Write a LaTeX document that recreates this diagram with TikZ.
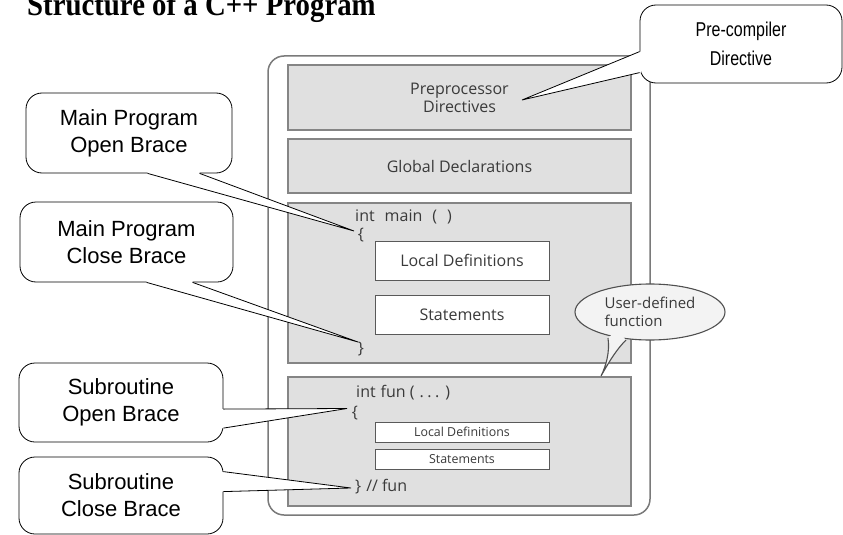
\documentclass[tikz,border=0pt]{standalone}
\usepackage{fontspec}
\setmainfont{Liberation Sans}
\newfontfamily\titlefont{Liberation Serif}
\newfontfamily\codefont{Open Sans}
\usetikzlibrary{shapes.geometric,calc}
\definecolor{panelfill}{HTML}{E0E0E0}
\definecolor{panelline}{HTML}{858585}
\definecolor{ink}{HTML}{3A3A3A}
\definecolor{frameline}{HTML}{7A7A7A}
\definecolor{bubblefill}{HTML}{F3F3F3}
\definecolor{bubbleline}{HTML}{505050}

\begin{document}
\begin{tikzpicture}[x=1pt,y=-1pt,
  panel/.style={draw=panelline, fill=panelfill, line width=1.2pt, minimum width=343pt,
    inner sep=0pt, align=center, text=ink, font=\codefont\fontsize{16}{18}\selectfont},
  whitebox/.style={draw=black!65, fill=white, line width=1pt, minimum width=174pt,
    inner sep=0pt, text=ink, font=\codefont\fontsize{16}{18}\selectfont},
  smallbox/.style={whitebox, minimum height=20pt, font=\codefont\fontsize{12.4}{14}\selectfont},
  code/.style={font=\codefont\fontsize{16}{18}\selectfont, text=ink, inner sep=0pt},
  callbox/.style={draw=black, fill=white, line width=0.8pt, rounded corners=16pt,
    align=center, font=\fontsize{22}{27}\selectfont, inner sep=0pt},
  tail/.style={draw=black, line width=0.8pt, line join=miter}
]
\useasboundingbox (0,0) rectangle (843,535);

% title
\node[anchor=base west, inner sep=0pt, font=\titlefont\bfseries\fontsize{32}{32}\selectfont]
  (title) at (27,16) {\scalebox{0.9}[1]{Structure of a C++ Program}};

% outer frame of the program
\node[draw=frameline, fill=white, line width=1.5pt, rounded corners=16pt,
  minimum width=382pt, minimum height=459pt, inner sep=0pt] (frame) at (459,285.5) {};

% sections
\node[panel, minimum height=65pt] (pre) at (459.5,97.5) {Preprocessor\\Directives};
\node[panel, minimum height=54pt] (glob) at (459.5,166) {Global Declarations};
\node[panel, minimum height=160pt] (mainp) at (459.5,283) {};
\node[panel, minimum height=129pt] (funp) at (459.5,441.5) {};

% main function
\node[code, anchor=west] (mhead) at (355,217)
  {int\hspace{10pt}main\hspace{10pt}(\hspace{10pt})};
\node[code] (mopen) at (361,235) {\{};
\node[whitebox, minimum height=39pt] (mloc) at (462,260.5) {Local Definitions};
\node[whitebox, minimum height=39pt] (mstm) at (462,314.5) {Statements};
\node[code] (mclose) at (361,349) {\}};

% user function
\node[code, anchor=west] (fhead) at (356,393)
  {int\hspace{5pt}fun\hspace{4pt}(\hspace{5pt}.\hspace{3.5pt}.\hspace{3.5pt}.\hspace{6pt})};
\node[code] (fopen) at (355,413) {\{};
\node[smallbox] (floc) at (462,432) {Local Definitions};
\node[smallbox] (fstm) at (462,459) {Statements};
\node[code, anchor=west] (fclose) at (355,487) {\}\hspace{5pt}//\hspace{4pt}fun};

% speech bubble
\node[ellipse, draw=bubbleline, fill=bubblefill, line width=1.1pt, minimum width=150pt,
  minimum height=56pt, inner sep=0pt, align=left, text=ink,
  font=\codefont\fontsize{15}{18}\selectfont] (ud) at (650,312) {User-defined\\function};
\coordinate (udtip) at (601,376);
\fill[bubblefill] (608,338) .. controls (610,352) and (606,366) .. (udtip)
  .. controls (609,362) and (616,350) .. (626,340) -- (617,330) -- cycle;
\draw[bubbleline, line width=1.1pt] (608,338) .. controls (610,352) and (606,366) .. (udtip)
  .. controls (609,362) and (616,350) .. (626,340);

% callouts
\node[callbox, minimum width=206pt, minimum height=80pt] (cmo) at (129,133) {Main Program\\Open Brace};
\node[callbox, minimum width=213pt, minimum height=80pt] (cmc) at (126.5,242) {Main Program\\Close Brace};
\node[callbox, minimum width=204pt, minimum height=79pt] (cso) at (121,402.5) {Subroutine\\Open Brace};
\node[callbox, minimum width=204pt, minimum height=77pt] (csc) at (121,495.5) {Subroutine\\Close Brace};
\node[callbox, minimum width=202pt, minimum height=78pt, font=\fontsize{20}{29}\selectfont]
  (cpc) at (741,44) {\scalebox{0.8}[1]{Pre-compiler}\\\scalebox{0.8}[1]{Directive}};

% tail base points and tips
\coordinate (cmoA) at ($(cmo.south west)+(122,0)$);
\coordinate (cmoB) at ($(cmo.south west)+(174,0)$);
\coordinate (tmo) at (354,231);
\coordinate (cmcA) at ($(cmc.south west)+(127,0)$);
\coordinate (cmcB) at ($(cmc.south west)+(173,0)$);
\coordinate (tmc) at (358,342);
\coordinate (csoA) at ($(cso.north east)+(0,46.5)$);
\coordinate (csoB) at ($(cso.north east)+(0,65.5)$);
\coordinate (tso) at (347,408.5);
\coordinate (cscA) at ($(csc.north east)+(0,15)$);
\coordinate (cscB) at ($(csc.north east)+(0,35)$);
\coordinate (tsc) at (351,488);
\coordinate (cpcA) at ($(cpc.north west)+(0,47)$);
\coordinate (cpcB) at ($(cpc.north west)+(0,68)$);
\coordinate (tpc) at (522,100);

% tails
\fill[white] ($(cmoA)+(0,-1.5)$) -- (cmoA) -- (tmo) -- (cmoB) -- ($(cmoB)+(0,-1.5)$) -- cycle;
\draw[tail] (cmoA) -- (tmo) -- (cmoB);
\fill[white] ($(cmcA)+(0,-1.5)$) -- (cmcA) -- (tmc) -- (cmcB) -- ($(cmcB)+(0,-1.5)$) -- cycle;
\draw[tail] (cmcA) -- (tmc) -- (cmcB);
\fill[white] ($(csoA)+(-1.5,0)$) -- (csoA) -- (tso) -- (csoB) -- ($(csoB)+(-1.5,0)$) -- cycle;
\draw[tail] (csoA) -- (tso) -- (csoB);
\fill[white] ($(cscA)+(-1.5,0)$) -- (cscA) -- (tsc) -- (cscB) -- ($(cscB)+(-1.5,0)$) -- cycle;
\draw[tail] (cscA) -- (tsc) -- (cscB);
\fill[white] ($(cpcA)+(1.5,0)$) -- (cpcA) -- (tpc) -- (cpcB) -- ($(cpcB)+(1.5,0)$) -- cycle;
\draw[tail] (cpcA) -- (tpc) -- (cpcB);
\end{tikzpicture}
\end{document}
